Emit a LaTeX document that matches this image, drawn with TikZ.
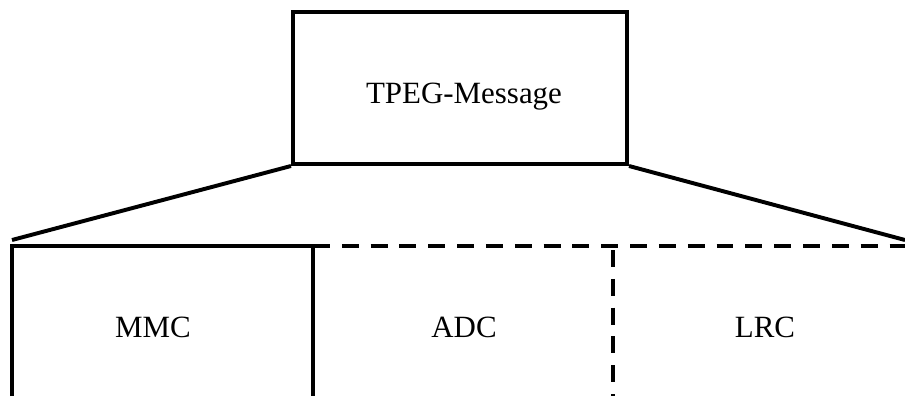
\documentclass[tikz,border=0pt]{standalone}
\usepackage{fontspec}
\setmainfont{Liberation Serif}
\tikzset{
  part/.style={font=\fontsize{22}{26}\selectfont, anchor=base},
  cut/.style={dash pattern=on 12pt off 8.5pt},
}
\begin{document}
\begin{tikzpicture}[x=0.025cm,y=-0.025cm,line width=2.8pt]
    \useasboundingbox (0,0) rectangle (905,396);
    \node[draw, minimum width=8.35cm, minimum height=3.8cm] (msg) at (460,88) {};
    \node[part] (msgtext) at (464,103) {TPEG-Message};
    \coordinate (lefttip) at (12,240) ;
    \coordinate (righttip) at (905,240) ;
    \coordinate (leftend) at (12,246) ;
    \coordinate (mid) at (313,246) ;
    \coordinate (split) at (613,246) ;
    \coordinate (rightend) at (905,246) ;
    \draw (msg.south west) -- (lefttip) ;
    \draw (msg.south east) -- (righttip) ;
    \draw (12,396) -- (leftend) -- (mid) -- (313,396) ;
    \draw[cut] (mid) -- (rightend) ;
    \draw[cut] (613,250) -- (613,396) ;
    \node[part] (mmc) at (153,337) {MMC} ;
    \node[part] (adc) at (464,337) {ADC} ;
    \node[part] (lrc) at (765,337) {LRC} ;
\end{tikzpicture}
\end{document}
